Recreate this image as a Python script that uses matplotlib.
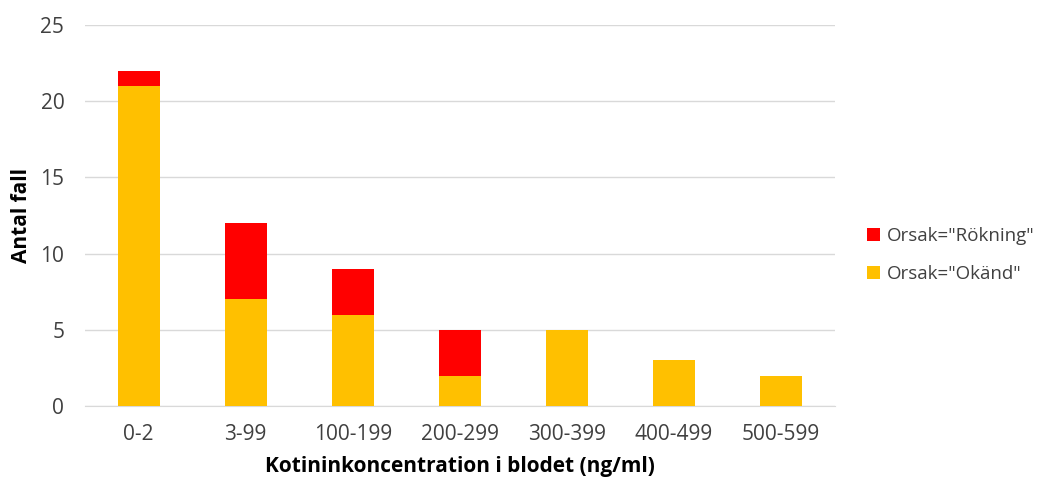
import numpy as np
import matplotlib.pyplot as plt

plt.rcParams['font.family'] = ['Open Sans', 'DejaVu Sans']

categories = ['0-2', '3-99', '100-199', '200-299', '300-399', '400-499', '500-599']
okand = [21, 7, 6, 2, 5, 3, 2]
rokning = [1, 5, 3, 3, 0, 0, 0]

fig = plt.figure(figsize=(10.38, 4.79), dpi=100)
ax = fig.add_axes([0.082, 0.152, 0.722, 0.796])

x = np.arange(len(categories))
w = 0.39
ax.bar(x, okand, w, color='#FFC000', label='Orsak="Okänd"', zorder=3)
ax.bar(x, rokning, w, bottom=okand, color='#FF0000', label='Orsak="Rökning"', zorder=3)

ax.set_xlim(-0.5, len(categories) - 0.5)
ax.set_ylim(0, 25)
ax.set_yticks(range(0, 26, 5))
ax.set_xticks(x)
ax.set_xticklabels(categories)
ax.tick_params(axis='both', length=0, labelsize=15, colors='#404040')
ax.tick_params(axis='x', pad=13)
ax.tick_params(axis='y', pad=15)
ax.grid(axis='y', color='#D9D9D9', linewidth=1, zorder=0)
for s in ['top', 'right', 'left']:
    ax.spines[s].set_visible(False)
ax.spines['bottom'].set_color('#D9D9D9')

ax.set_ylabel('Antal fall', fontsize=15, fontweight='bold', labelpad=6)
ax.set_xlabel('Kotininkoncentration i blodet (ng/ml)', fontsize=15, fontweight='bold', labelpad=8)

handles, labels = ax.get_legend_handles_labels()
fig.legend(handles[::-1], labels[::-1], loc='center left', bbox_to_anchor=(0.835, 0.468),
           frameon=False, fontsize=13.5, handlelength=0.7, handleheight=0.7,
           labelspacing=1.05, handletextpad=0.4, labelcolor='#404040',
           borderaxespad=0, borderpad=0)

fig.savefig('out.png', dpi=100)
